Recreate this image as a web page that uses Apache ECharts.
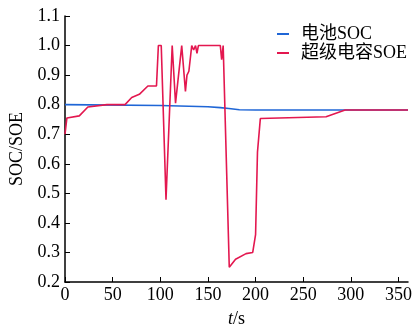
<!DOCTYPE html>
<html>
<head>
<meta charset="utf-8">
<script src="https://cdn.jsdelivr.net/npm/echarts@6/dist/echarts.min.js"></script>
<style>
html,body{margin:0;padding:0;background:#fff;}
#chart{width:415px;height:333px;}
</style>
</head>
<body>
<div id="chart"></div>
<script>
// 电池SOC
var socTime = [0, 100, 150, 163, 172, 183, 200, 360];
var socValue = [0.80, 0.797, 0.793, 0.79, 0.787, 0.783, 0.782, 0.782];
// 超级电容SOE
var soeTime = [0, 2, 15, 24, 44, 63, 70, 78, 87, 96, 98, 101, 106, 112.5, 116, 122.5, 123.5, 126.4, 128, 130, 133, 135, 137, 138.5, 140, 163, 164.4, 166, 172.4, 179, 190, 197, 200, 202, 205, 274, 294, 360];
var soeValue = [0.70, 0.755, 0.762, 0.792, 0.80, 0.80, 0.824, 0.835, 0.863, 0.863, 1.0, 1.0, 0.478, 1.0, 0.805, 1.0, 1.0, 0.845, 0.90, 0.913, 1.0, 0.985, 1.0, 0.974, 1.0, 1.0, 0.952, 1.0, 0.25, 0.277, 0.296, 0.30, 0.36, 0.64, 0.753, 0.759, 0.782, 0.782];
var seriesNames = ['电池SOC', '超级电容SOE'];

var font = "'Liberation Serif','Times New Roman','Noto Sans CJK SC',serif";

function pairs(xs, ys) {
    var out = [];
    for (var i = 0; i < xs.length; i++) out.push([xs[i], ys[i]]);
    return out;
}

var chart = echarts.init(document.getElementById('chart'));
chart.setOption({
    animation: false,
    grid: {left: 65, right: 5, top: 16, bottom: 48},
    legend: {
        data: seriesNames,
        orient: 'vertical',
        right: 3,
        top: 20,
        itemWidth: 12,
        itemHeight: 2,
        itemGap: 1,
        icon: 'rect',
        textStyle: {fontFamily: font, fontSize: 18, color: '#000', padding: [0, 0, 0, 7]}
    },
    xAxis: {
        type: 'value',
        min: 0,
        max: 360,
        interval: 50,
        name: '{i|t}/s',
        nameLocation: 'middle',
        nameGap: 28,
        nameTextStyle: {fontFamily: font, fontSize: 18, color: '#000', rich: {i: {fontFamily: font, fontSize: 18, fontStyle: 'italic'}}},
        axisLine: {lineStyle: {color: '#000', width: 1.5}},
        axisTick: {inside: true, length: 5, lineStyle: {color: '#000'}},
        axisLabel: {fontFamily: font, fontSize: 18, color: '#000', margin: 4, showMaxLabel: false},
        splitLine: {show: false}
    },
    yAxis: {
        type: 'value',
        min: 0.2,
        max: 1.1,
        interval: 0.1,
        name: 'SOC/SOE',
        nameLocation: 'middle',
        nameGap: 39,
        nameTextStyle: {fontFamily: font, fontSize: 18, color: '#000'},
        axisLine: {show: true, lineStyle: {color: '#000', width: 1.5}},
        axisTick: {show: true, inside: true, length: 5, lineStyle: {color: '#000'}},
        axisLabel: {fontFamily: font, fontSize: 18, color: '#000', margin: 5, formatter: function (v) { return v.toFixed(1); }},
        splitLine: {show: false}
    },
    series: [
        {
            name: seriesNames[0],
            type: 'line',
            data: pairs(socTime, socValue),
            showSymbol: false,
            lineStyle: {color: '#1f66d6', width: 1.6},
            itemStyle: {color: '#1f66d6'}
        },
        {
            name: seriesNames[1],
            type: 'line',
            data: pairs(soeTime, soeValue),
            showSymbol: false,
            lineStyle: {color: '#e3174f', width: 1.6},
            itemStyle: {color: '#e3174f'}
        }
    ]
});
</script>
</body>
</html>
